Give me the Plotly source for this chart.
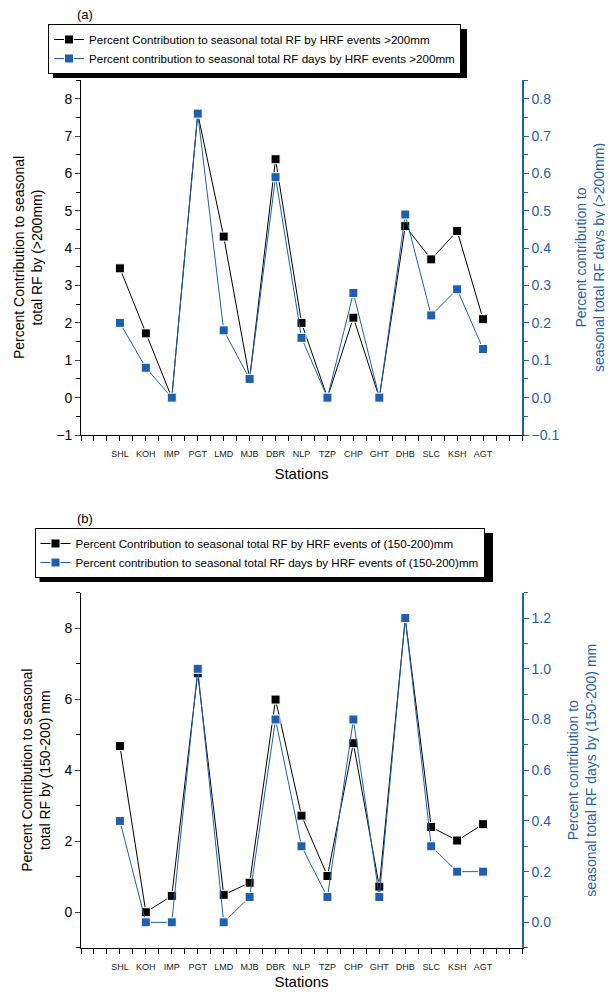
import plotly.graph_objects as go

stations = ["SHL", "KOH", "IMP", "PGT", "LMD", "MJB", "DBR", "NLP", "TZP", "CHP",
            "GHT", "DHB", "SLC", "KSH", "AGT"]
pos = list(range(1, len(stations) + 1))

# Panel (a): > 200 mm
rf_a = [3.46, 1.72, 0.0, 7.6, 4.31, 0.51, 6.38, 2.0, 0.0, 2.14, 0.0, 4.59, 3.70, 4.46, 2.10]
days_a = [0.20, 0.08, 0.0, 0.76, 0.18, 0.05, 0.59, 0.16, 0.0, 0.28, 0.0, 0.49, 0.22, 0.29, 0.13]

# Panel (b): 150-200 mm
rf_b = [4.68, 0.0, 0.46, 6.73, 0.49, 0.83, 5.99, 2.72, 1.02, 4.76, 0.72, 8.28, 2.40, 2.02, 2.48]
days_b = [0.40, 0.0, 0.0, 1.00, 0.0, 0.10, 0.80, 0.30, 0.10, 0.80, 0.10, 1.20, 0.30, 0.20, 0.20]

BLUE = "#1f5fb0"
FONT = "Liberation Sans, Arial, Helvetica, sans-serif"
W, H = 613, 992
OFF = 8  # page body margin

def px(v):
    return (v - OFF) / W

def py(v):
    return 1 - (v - OFF) / H

xdom = [px(81), px(522)]
dom_a = [py(435), py(80)]
dom_b = [py(947.7), py(592.7)]

fig = go.Figure()

mk = dict(symbol="square", size=9, line=dict(color="white", width=1))

fig.add_trace(go.Scatter(x=pos, y=rf_a, mode="lines+markers", xaxis="x", yaxis="y",
                         line=dict(color="black", width=1), marker=dict(color="black", **mk),
                         name="Percent Contribution to seasonal total RF by HRF events >200mm",
                         legend="legend"))
fig.add_trace(go.Scatter(x=pos, y=days_a, mode="lines+markers", xaxis="x", yaxis="y2",
                         line=dict(color=BLUE, width=1), marker=dict(color=BLUE, **mk),
                         name="Percent contribution to seasonal total RF days by HRF events >200mm",
                         legend="legend"))
fig.add_trace(go.Scatter(x=pos, y=rf_b, mode="lines+markers", xaxis="x2", yaxis="y3",
                         line=dict(color="black", width=1), marker=dict(color="black", **mk),
                         name="Percent Contribution to seasonal total RF by HRF events of (150-200)mm",
                         legend="legend2"))
fig.add_trace(go.Scatter(x=pos, y=days_b, mode="lines+markers", xaxis="x2", yaxis="y4",
                         line=dict(color=BLUE, width=1), marker=dict(color=BLUE, **mk),
                         name="Percent contribution to seasonal total RF days by HRF events of (150-200)mm",
                         legend="legend2"))

xr = [-0.5, 16.5]
tv = [i * 0.5 for i in range(-1, 34)]
tt = [stations[int(v) - 1] if (v == int(v) and 1 <= v <= 15) else "" for v in tv]

def xbottom(anchor, standoff):
    return dict(domain=xdom, range=xr, anchor=anchor, tickvals=tv, ticktext=tt,
                ticks="outside", ticklen=5, tickcolor="black", showline=True,
                linecolor="black", linewidth=1, showgrid=False, zeroline=False,
                automargin=False, ticklabelstandoff=5,
                tickfont=dict(size=9, color="#222", family=FONT),
                title=dict(text="Stations", font=dict(size=15, color="black", family=FONT),
                           standoff=standoff))

def xtop(anchor, overl):
    return dict(domain=xdom, range=xr, anchor=anchor, overlaying=overl, side="top",
                tickvals=tv, ticktext=[""] * len(tv), ticks="inside", ticklen=5,
                tickcolor="black", showline=True, linecolor="black", linewidth=1,
                showgrid=False, zeroline=False, automargin=False)

fig.update_layout(
    width=W, height=H, margin=dict(l=0, r=0, t=0, b=0, autoexpand=False),
    paper_bgcolor="white", plot_bgcolor="white",
    font=dict(family=FONT, color="black"),
    xaxis=xbottom("y", 10),
    xaxis3=xtop("y", "x"),
    xaxis2=xbottom("y3", 5),
    xaxis4=xtop("y3", "x2"),
    yaxis=dict(domain=dom_a, anchor="x", range=[-1, 8.5], dtick=1, tick0=0,
               ticks="outside", ticklen=5, showline=True, linecolor="black", linewidth=1,
               showgrid=False, zeroline=False, tickfont=dict(size=14, family=FONT),
               automargin=False,
               minor=dict(dtick=0.5, ticks="outside", ticklen=4, tickcolor="black"),
               title=dict(text="Percent Contribution to seasonal<br>total RF by (>200mm)",
                          font=dict(size=14, family=FONT), standoff=10)),
    yaxis2=dict(domain=dom_a, anchor="x", overlaying="y", side="right", range=[-0.1, 0.85],
                dtick=0.1, tick0=0, tickformat=".1f", ticks="outside", ticklen=5,
                tickcolor=BLUE, showline=True, linecolor=BLUE, linewidth=1.5,
                showgrid=False, zeroline=False, tickfont=dict(size=14, color=BLUE, family=FONT),
                automargin=False,
                minor=dict(dtick=0.05, ticks="outside", ticklen=4, tickcolor=BLUE),
                title=dict(text="Percent contribution to<br>seasonal total RF days by (>200mm)",
                           font=dict(size=14, color=BLUE, family=FONT), standoff=18)),
    yaxis3=dict(domain=dom_b, anchor="x2", range=[-1, 9], dtick=2, tick0=0,
                ticks="outside", ticklen=5, showline=True, linecolor="black", linewidth=1,
                showgrid=False, zeroline=False, tickfont=dict(size=14, family=FONT),
                automargin=False,
                minor=dict(dtick=1, ticks="outside", ticklen=4, tickcolor="black"),
                title=dict(text="Percent Contribution to seasonal<br>total RF by (150-200) mm",
                           font=dict(size=14, family=FONT), standoff=10)),
    yaxis4=dict(domain=dom_b, anchor="x2", overlaying="y3", side="right", range=[-0.1, 1.3],
                dtick=0.2, tick0=0, tickformat=".1f", ticks="outside", ticklen=5,
                tickcolor=BLUE, showline=True, linecolor=BLUE, linewidth=1.5,
                showgrid=False, zeroline=False, tickfont=dict(size=14, color=BLUE, family=FONT),
                automargin=False,
                minor=dict(dtick=0.1, ticks="outside", ticklen=4, tickcolor=BLUE),
                title=dict(text="Percent contribution to<br>seasonal total RF days by (150-200) mm",
                           font=dict(size=14, color=BLUE, family=FONT), standoff=18)),
    legend=dict(x=px(48), y=py(24), xanchor="left", yanchor="top", bgcolor="white",
                bordercolor="black", borderwidth=1, font=dict(size=11.6, family=FONT),
                tracegroupgap=0, itemwidth=30),
    legend2=dict(x=px(34.5), y=py(528), xanchor="left", yanchor="top", bgcolor="white",
                 bordercolor="black", borderwidth=1, font=dict(size=11.6, family=FONT),
                 tracegroupgap=0, itemwidth=30),
    showlegend=True,
)

# legend drop shadows
fig.add_shape(type="rect", xref="paper", yref="paper", x0=px(53), x1=px(467), y0=py(78), y1=py(29),
              fillcolor="black", line=dict(width=0), layer="above")
fig.add_shape(type="rect", xref="paper", yref="paper", x0=px(39.5), x1=px(493), y0=py(582), y1=py(533),
              fillcolor="black", line=dict(width=0), layer="above")

fig.add_annotation(text="(a)", x=px(85), y=py(14), xref="paper", yref="paper",
                   xanchor="center", yanchor="middle",
                   showarrow=False, font=dict(size=13, family=FONT))
fig.add_annotation(text="(b)", x=px(85), y=py(518), xref="paper", yref="paper",
                   xanchor="center", yanchor="middle",
                   showarrow=False, font=dict(size=13, family=FONT))

fig.write_html("out.html")
